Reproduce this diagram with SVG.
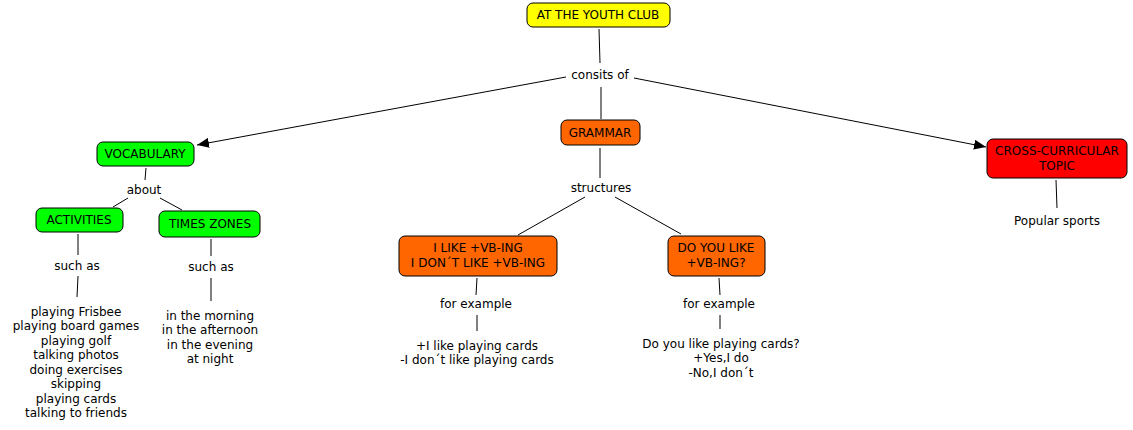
<svg xmlns="http://www.w3.org/2000/svg" width="1133" height="430" viewBox="0 0 1133 430">
<style>
text{font-family:"DejaVu Sans",Verdana,sans-serif;font-size:12px;fill:#000;text-anchor:middle}
.n{stroke:#000;stroke-width:1}
.c line{stroke:#000;stroke-width:1}
</style>
<defs>
<marker id="ah" viewBox="0 0 12 10" refX="12" refY="5" markerWidth="12" markerHeight="10" markerUnits="userSpaceOnUse" orient="auto">
<path d="M0,0 L12,5 L0,10 z" fill="#000"/>
</marker>
</defs>
<rect width="1133" height="430" fill="#fff"/>
<g class="c">
<line x1="599" y1="29" x2="600" y2="63"/>
<line x1="566" y1="77" x2="197" y2="145" marker-end="url(#ah)"/>
<line x1="601" y1="87" x2="601" y2="119"/>
<line x1="634" y1="78" x2="986" y2="147" marker-end="url(#ah)"/>
<line x1="146" y1="168" x2="145" y2="180"/>
<line x1="128" y1="198" x2="113" y2="207"/>
<line x1="160" y1="198" x2="182" y2="210"/>
<line x1="78" y1="234" x2="78" y2="255"/>
<line x1="78" y1="276" x2="77" y2="297"/>
<line x1="211" y1="239" x2="211" y2="256"/>
<line x1="211" y1="278" x2="211" y2="301"/>
<line x1="600" y1="148" x2="600" y2="178"/>
<line x1="585" y1="197" x2="518" y2="235"/>
<line x1="615" y1="197" x2="681" y2="234"/>
<line x1="477" y1="278" x2="476" y2="295"/>
<line x1="477" y1="315" x2="477" y2="331"/>
<line x1="719" y1="278" x2="720" y2="295"/>
<line x1="720" y1="315" x2="720" y2="329"/>
<line x1="1056" y1="180" x2="1057" y2="208"/>
</g>
<g id="youth"><rect class="n" x="527" y="3" width="143" height="24" rx="6" fill="#ffff00"/><text x="598" y="19">AT THE YOUTH CLUB</text></g>
<g id="consits"><text x="600" y="79">consits of</text></g>
<g id="vocab"><rect class="n" x="97" y="142" width="97" height="24" rx="6" fill="#00ff00"/><text x="145" y="158">VOCABULARY</text></g>
<g id="grammar"><rect class="n" x="561" y="120" width="79" height="25" rx="6" fill="#ff6600"/><text x="600" y="137">GRAMMAR</text></g>
<g id="cross"><rect class="n" x="987" y="139" width="140" height="39" rx="6" fill="#ff0000"/><text x="1057" y="155">CROSS-CURRICULAR</text><text x="1057" y="170">TOPIC</text></g>
<g id="about"><text x="144" y="194">about</text></g>
<g id="activities"><rect class="n" x="36" y="208" width="87" height="24" rx="6" fill="#00ff00"/><text x="79" y="224">ACTIVITIES</text></g>
<g id="times"><rect class="n" x="159" y="211" width="101" height="26" rx="6" fill="#00ff00"/><text x="210" y="228">TIMES ZONES</text></g>
<g id="suchas1"><text x="77" y="270">such as</text></g>
<g id="suchas2"><text x="211" y="271">such as</text></g>
<g id="actlist"><text x="76" y="316">playing Frisbee</text><text x="76" y="330">playing board games</text><text x="76" y="345">playing golf</text><text x="76" y="359">talking photos</text><text x="76" y="374">doing exercises</text><text x="76" y="388">skipping</text><text x="76" y="403">playing cards</text><text x="76" y="417">talking to friends</text></g>
<g id="timelist"><text x="210" y="320">in the morning</text><text x="210" y="334">in the afternoon</text><text x="210" y="349">in the evening</text><text x="210" y="363">at night</text></g>
<g id="structures"><text x="601" y="192">structures</text></g>
<g id="ilike"><rect class="n" x="399" y="236" width="158" height="40" rx="6" fill="#ff6600"/><text x="478" y="252">I LIKE +VB-ING</text><text x="478" y="267">I DON´T LIKE +VB-ING</text></g>
<g id="doyou"><rect class="n" x="668" y="236" width="97" height="40" rx="6" fill="#ff6600"/><text x="716" y="252">DO YOU LIKE</text><text x="716" y="267">+VB-ING?</text></g>
<g id="forex1"><text x="476" y="308">for example</text></g>
<g id="forex2"><text x="719" y="308">for example</text></g>
<g id="ex1"><text x="477" y="350">+I like playing cards</text><text x="477" y="364">-I don´t like playing cards</text></g>
<g id="ex2"><text x="721" y="348">Do you like playing cards?</text><text x="721" y="362">+Yes,I do</text><text x="721" y="377">-No,I don´t</text></g>
<g id="popular"><text x="1057" y="225">Popular sports</text></g>
</svg>
